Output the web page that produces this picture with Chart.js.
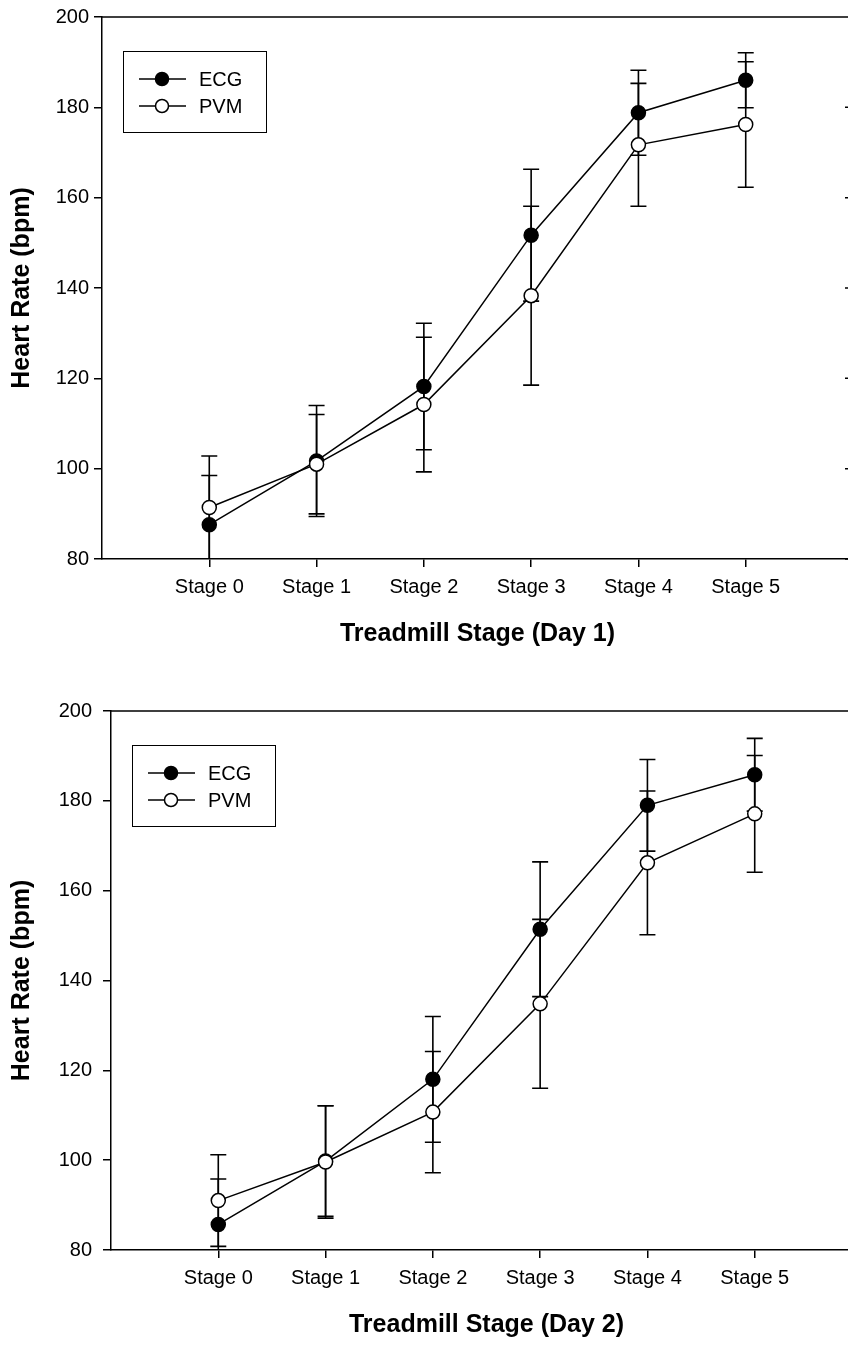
<!DOCTYPE html>
<html>
<head>
<meta charset="utf-8">
<script src="https://cdn.jsdelivr.net/npm/chart.js@4.4.0/dist/chart.umd.min.js"></script>
<style>
  body { margin: 0; background: #fff; overflow: hidden; width: 848px; height: 1345px; position: relative; }
  .wrap { position: absolute; left: 0; }
  #w1 { top: 0; }
  #w2 { top: 688px; }
</style>
</head>
<body>
<div class="wrap" id="w1"><canvas id="day1" width="880" height="660"></canvas></div>
<div class="wrap" id="w2"><canvas id="day2" width="880" height="657"></canvas></div>
<script>
'use strict';

// categories and ticks
const stages = ['Stage 0', 'Stage 1', 'Stage 2', 'Stage 3', 'Stage 4', 'Stage 5'];
const stageX = [0, 1, 2, 3, 4, 5];
const hrTicks = [80, 100, 120, 140, 160, 180, 200];

// day 1 (mean, +/- error)
const day1Ecg = [87.6, 101.7, 118.2, 151.7, 178.8, 186.0];
const day1EcgErr = [10.9, 12.3, 14.0, 14.6, 9.4, 6.1];
const day1Pvm = [91.4, 101.0, 114.2, 138.3, 171.7, 176.2];
const day1PvmErr = [11.4, 11.0, 14.9, 19.8, 13.6, 13.9];

// day 2
const day2Ecg = [85.7, 99.8, 118.0, 151.4, 179.0, 185.8];
const day2EcgErr = [10.1, 12.3, 14.0, 15.0, 10.2, 8.1];
const day2Pvm = [91.0, 99.6, 110.7, 134.8, 166.2, 177.1];
const day2PvmErr = [10.2, 12.5, 13.5, 18.8, 16.0, 13.0];

const FONT = 'Arial, "Liberation Sans", Helvetica, sans-serif';
Chart.defaults.font.family = FONT;
Chart.defaults.color = '#000';

// error bars behind the lines and markers
const errorBars = {
  id: 'errorBars',
  beforeDatasetsDraw(chart) {
    const {ctx, chartArea: a, scales: {x, y}} = chart;
    ctx.save();
    ctx.beginPath();
    ctx.rect(a.left, a.top, a.right - a.left, a.bottom - a.top);
    ctx.clip();
    ctx.strokeStyle = '#000';
    ctx.lineWidth = 1.6;
    chart.data.datasets.forEach(ds => {
      ds.data.forEach((p, i) => {
        const e = ds.errors[i];
        const px = x.getPixelForValue(p.x);
        const top = y.getPixelForValue(p.y + e);
        const bot = y.getPixelForValue(p.y - e);
        ctx.beginPath();
        ctx.moveTo(px, top); ctx.lineTo(px, bot);
        ctx.moveTo(px - 8, top); ctx.lineTo(px + 8, top);
        ctx.moveTo(px - 8, bot); ctx.lineTo(px + 8, bot);
        ctx.stroke();
      });
    });
    ctx.restore();
  }
};

// top border, right border with inward ticks, boxed legend
const frameAndLegend = {
  id: 'frameAndLegend',
  afterDraw(chart) {
    const {ctx, chartArea: a, scales: {y}} = chart;
    ctx.save();
    ctx.strokeStyle = '#000';
    ctx.lineWidth = 1.5;
    ctx.beginPath();
    ctx.moveTo(a.left, a.top); ctx.lineTo(a.right, a.top);
    ctx.moveTo(a.right, a.top); ctx.lineTo(a.right, a.bottom);
    hrTicks.forEach(v => {
      const py = y.getPixelForValue(v);
      ctx.moveTo(a.right - 8, py); ctx.lineTo(a.right, py);
    });
    ctx.stroke();

    // legend
    const bx = a.left + 21, by = a.top + 34;
    ctx.lineWidth = 1;
    ctx.strokeRect(bx + 0.5, by + 0.5, 143, 81);
    ctx.font = '20px ' + FONT;
    ctx.textBaseline = 'middle';
    ctx.fillStyle = '#000';
    chart.data.datasets.forEach((ds, i) => {
      const ry = by + 28 + i * 27;
      ctx.lineWidth = 1.5;
      ctx.beginPath();
      ctx.moveTo(bx + 16, ry); ctx.lineTo(bx + 63, ry);
      ctx.stroke();
      ctx.beginPath();
      ctx.arc(bx + 39, ry, 6.5, 0, Math.PI * 2);
      ctx.fillStyle = ds.pointBackgroundColor;
      ctx.fill();
      ctx.stroke();
      ctx.fillStyle = '#000';
      ctx.fillText(ds.label, bx + 76, ry + 1);
    });
    ctx.restore();
  }
};

function points(vals) {
  return stageX.map((s, i) => ({x: s, y: vals[i]}));
}

function makeChart(id, title, ecg, ecgErr, pvm, pvmErr, yWidth, yPad, pad) {
  const axisGrid = {drawOnChartArea: false, drawTicks: true, tickLength: 8, color: '#000', lineWidth: 1.5};
  const axisBorder = {display: true, color: '#000', width: 1.5};
  return new Chart(document.getElementById(id), {
    type: 'line',
    data: {
      datasets: [
        {label: 'ECG', data: points(ecg), errors: ecgErr, order: 1,
         borderColor: '#000', borderWidth: 1.5, pointRadius: 7, pointBorderWidth: 1.5,
         pointBorderColor: '#000', pointBackgroundColor: '#000'},
        {label: 'PVM', data: points(pvm), errors: pvmErr, order: 0,
         borderColor: '#000', borderWidth: 1.5, pointRadius: 7, pointBorderWidth: 1.5,
         pointBorderColor: '#000', pointBackgroundColor: '#fff'}
      ]
    },
    options: {
      responsive: false,
      animation: false,
      layout: {padding: pad},
      plugins: {legend: {display: false}, tooltip: {enabled: false}},
      scales: {
        x: {
          type: 'linear', min: -1, max: 6,
          afterBuildTicks: s => { s.ticks = stageX.map(v => ({value: v})); },
          ticks: {callback: v => stages[v], font: {size: 20}, color: '#000', padding: 8, maxRotation: 0, autoSkip: false},
          grid: axisGrid, border: axisBorder,
          title: {display: true, text: title, font: {size: 25, weight: 'bold'}, color: '#000', padding: 0},
          afterFit: s => { s.height = 90; }
        },
        y: {
          min: 80, max: 200,
          afterBuildTicks: s => { s.ticks = hrTicks.map(v => ({value: v})); },
          ticks: {font: {size: 20}, color: '#000', padding: yPad},
          grid: axisGrid, border: axisBorder,
          title: {display: true, text: 'Heart Rate (bpm)', font: {size: 25, weight: 'bold'}, color: '#000', padding: {top: 7, bottom: 0}},
          afterFit: s => { s.width = yWidth; }
        }
      }
    },
    plugins: [errorBars, frameAndLegend]
  });
}

makeChart('day1', 'Treadmill Stage (Day 1)', day1Ecg, day1EcgErr, day1Pvm, day1PvmErr, 102, 5,
  {top: 17, right: 27, bottom: 11, left: 0});
makeChart('day2', 'Treadmill Stage (Day 2)', day2Ecg, day2EcgErr, day2Pvm, day2PvmErr, 111, 11,
  {top: 17, right: 18, bottom: 5, left: 0});
</script>
</body>
</html>
